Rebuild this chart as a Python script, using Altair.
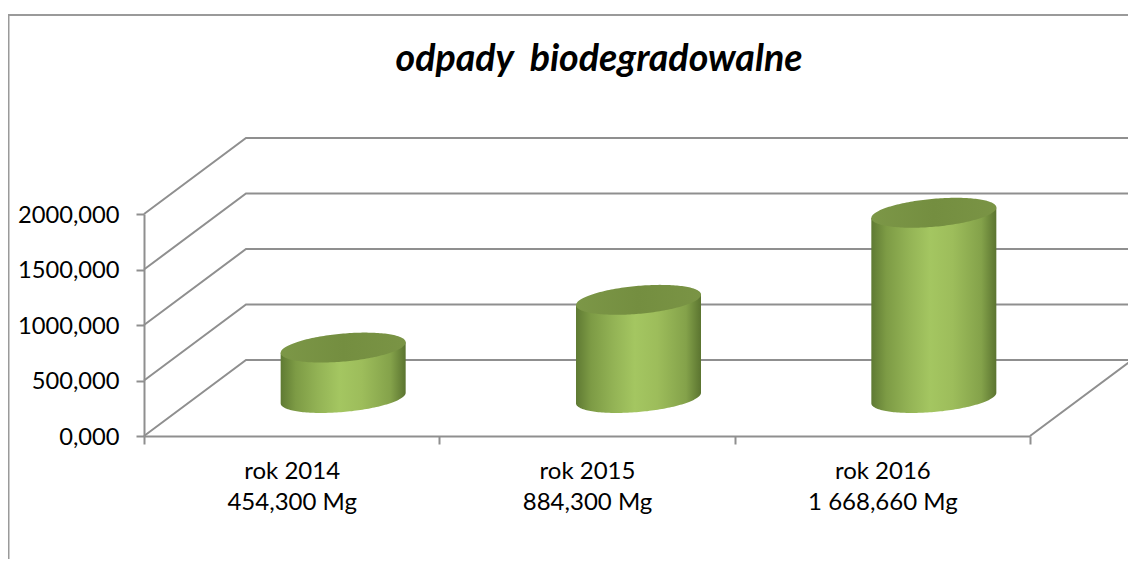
import math
import altair as alt
import pandas as pd

TITLE = "odpady\u00a0 biodegradowalne"
YEARS = ["rok 2014", "rok 2015", "rok 2016"]
AMOUNT_LABELS = ["454,300 Mg", "884,300 Mg", "1 668,660 Mg"]
VALUES = [454.3, 884.3, 1668.66]
Y_TICKS = [0, 500, 1000, 1500, 2000]
X_EDGES = [0, 1, 2, 3]

FONT = "Lato"
GREY = "#8f8f8f"
W, H = 886, 222
PAD = dict(left=136, top=206, right=98, bottom=123)

PX_C = W / 3.0
PX_V = H / 2000.0
DX, DY = 102.0, 76.0
RX, TILT, RY = 62.5, 5.3, 14.0


def cx(c, d=0.0, px=0.0):
    return c + (d * DX + px) / PX_C


def vy(v, d=0.0, px=0.0):
    return v + (d * DY + px) / PX_V


frame = pd.DataFrame({
    "x": [cx(0, px=-135.5), cx(0, px=-135.5), cx(0, px=984)],
    "y": [vy(0, px=-123), vy(0, px=421), vy(0, px=421)],
    "o": [0, 1, 2],
})

rows = []
for v in Y_TICKS[1:]:
    for o, (c, d) in enumerate([(0, 0), (0, 1), (3, 1)]):
        rows.append({"k": f"g{v}", "o": o, "x": cx(c, d), "y": vy(v, d)})
for v in Y_TICKS[:1]:
    for o, (c, d) in enumerate([(0, 0), (0, 1), (3, 1), (3, 0)]):
        rows.append({"k": f"g{v}", "o": o, "x": cx(c, d), "y": vy(v, d)})
grid = pd.DataFrame(rows)

body_rows, cap_rows = [], []
N = 90
for i, v in enumerate(VALUES):
    c0 = i + 0.5
    for j in range(N + 1):
        u = -math.cos(math.pi * j / N)
        root = math.sqrt(max(0.0, 1 - u * u))
        x = cx(c0, 0.5, RX * u + 0.5)
        tilt = TILT * u
        body_rows.append({"k": i, "x": x,
                          "y": vy(v, 0.5, tilt),
                          "b": vy(0, 0.5, tilt - RY * root)})
        cap_rows.append({"k": i, "x": x,
                         "y": vy(v, 0.5, tilt + RY * root),
                         "b": vy(v, 0.5, tilt - RY * root)})
body = pd.DataFrame(body_rows)
cap = pd.DataFrame(cap_rows)

body_fill = alt.Gradient(gradient="linear", x1=0, x2=1, y1=0, y2=0, stops=[
    alt.GradientStop(color="#5f7a33", offset=0),
    alt.GradientStop(color="#7d9b45", offset=0.12),
    alt.GradientStop(color="#93b355", offset=0.3),
    alt.GradientStop(color="#a4c661", offset=0.47),
    alt.GradientStop(color="#9dbd5b", offset=0.65),
    alt.GradientStop(color="#84a24a", offset=0.88),
    alt.GradientStop(color="#5b7430", offset=1),
])
cap_fill = alt.Gradient(gradient="linear", x1=0, x2=1, y1=0, y2=0, stops=[
    alt.GradientStop(color="#7c9747", offset=0),
    alt.GradientStop(color="#748e40", offset=0.5),
    alt.GradientStop(color="#7a9445", offset=1),
])

x_ticks = sorted(X_EDGES + [i + 0.5 for i in range(len(YEARS))])
label_expr = (
    f"datum.value % 1 == 0.5 ? [{YEARS}[floor(datum.value)], "
    f"{AMOUNT_LABELS}[floor(datum.value)]] : ''"
)
enc_x = alt.X("x:Q", title=None,
              scale=alt.Scale(domain=[0, 3], nice=False, zero=False),
              axis=alt.Axis(
    values=x_ticks, grid=False, domainColor=GREY, domainWidth=2,
    tickColor=alt.condition("datum.value % 1 == 0", alt.value(GREY), alt.value("transparent")),
    tickWidth=2, tickSize=8, labelExpr=label_expr, labelFont=FONT, labelFontSize=24,
    labelColor="#000000", labelPadding=27, labelLineHeight=31, labelBaseline="middle",
    labelOverlap=False, labelFlush=False))
enc_y = alt.Y("y:Q", title=None, stack=None,
              scale=alt.Scale(domain=[0, 2000], nice=False, zero=False),
              axis=alt.Axis(
    values=Y_TICKS, grid=False, domainColor=GREY, domainWidth=2, tickColor=GREY,
    tickWidth=2, tickSize=8, labelOffset=1,
    labelExpr="replace(format(datum.value, '.3f'), '.', ',')",
    labelFont=FONT, labelFontSize=23.7, labelColor="#000000", labelPadding=17))

frame_l = alt.Chart(frame).mark_line(color="#9a9a9a", strokeWidth=2, clip=False).encode(
    x=enc_x, y=enc_y, order="o:Q")
grid_l = alt.Chart(grid).mark_line(color=GREY, strokeWidth=2, clip=False).encode(
    x=enc_x, y=enc_y, detail="k:N", order="o:Q")
body_a = alt.Chart(body).mark_area(color=body_fill, clip=False).encode(
    x=enc_x, y=enc_y, y2=alt.Y2("b"), detail="k:N")
cap_a = alt.Chart(cap).mark_area(color=cap_fill, clip=False).encode(
    x=enc_x, y=enc_y, y2=alt.Y2("b"), detail="k:N")

chart = alt.layer(frame_l, grid_l, body_a, cap_a).properties(
    width=W, height=H, padding=PAD,
    autosize=alt.AutoSizeParams(type="none"),
    title=alt.TitleParams(
        TITLE, font=FONT, fontSize=37.6, fontStyle="italic", fontWeight="bold",
        color="#000000", anchor="middle", dx=12, offset=-98, baseline="alphabetic"),
).configure_view(stroke=None)

chart.save("out.html", embed_options={"renderer": "svg", "actions": False})
